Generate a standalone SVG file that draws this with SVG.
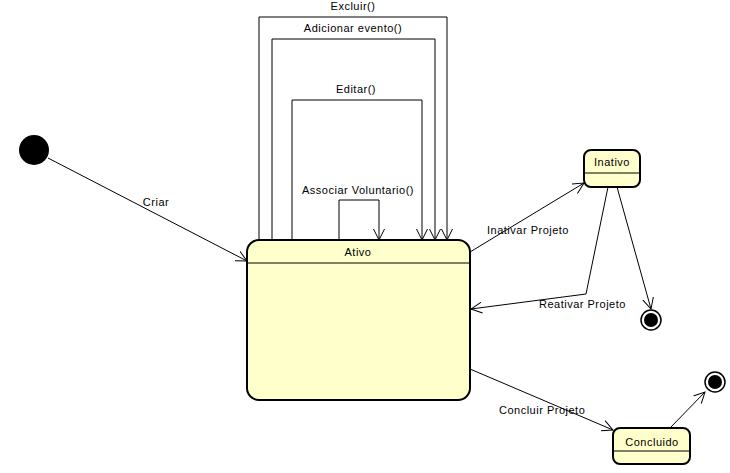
<svg xmlns="http://www.w3.org/2000/svg" width="730" height="473" viewBox="0 0 730 473">
<defs>
<marker id="arr" viewBox="0 0 12 12" refX="11" refY="6" markerWidth="12" markerHeight="12" markerUnits="userSpaceOnUse" orient="auto">
<path d="M0,0.5 L11,6 L0,11.5" fill="none" stroke="#000" stroke-width="1"/>
</marker>
</defs>
<style>
text{font-family:"Liberation Sans",Arial,sans-serif;font-size:11px;letter-spacing:0.5px;fill:#000}
.c{stroke:#000;stroke-width:1;fill:none;marker-end:url(#arr)}
.st{fill:#ffffcc;stroke:#000;stroke-width:2}
.ln{stroke:#000;stroke-width:1}
</style>
<rect width="730" height="473" fill="#fff"/>
<g id="connectors">
<path class="c" d="M48,158 L247,261"/>
<text x="156" y="206" text-anchor="middle">Criar</text>
<path class="c" d="M259,240 L259,17 L447,17 L447,240"/>
<text x="353" y="10" text-anchor="middle">Excluir()</text>
<path class="c" d="M272,240 L272,39 L435,39 L435,240"/>
<text x="353" y="32" text-anchor="middle">Adicionar evento()</text>
<path class="c" d="M292,240 L292,100 L422,100 L422,240"/>
<text x="356" y="93" text-anchor="middle">Editar()</text>
<path class="c" d="M339,240 L339,200 L379,200 L379,240"/>
<text x="358" y="194" text-anchor="middle">Associar Voluntario()</text>
<path class="c" d="M470,252 L584,183"/>
<text x="487" y="234">Inativar Projeto</text>
<path class="c" d="M608,187 L586,294 L471,309"/>
<text x="539" y="308">Reativar Projeto</text>
<path class="c" d="M617,187 L651,309"/>
<path class="c" d="M470,369 L613,430"/>
<text x="499" y="414">Concluir Projeto</text>
<path class="c" d="M670,428 L705,392"/>
</g>
<g id="initial">
<circle cx="34" cy="150" r="15" fill="#000"/>
</g>
<g id="ativo">
<rect class="st" x="247" y="240" width="223" height="160" rx="12"/>
<line class="ln" x1="247" y1="263" x2="470" y2="263"/>
<text x="358" y="256" text-anchor="middle">Ativo</text>
</g>
<g id="inativo">
<rect class="st" x="584" y="150" width="56" height="37" rx="7"/>
<line class="ln" x1="584" y1="173" x2="640" y2="173"/>
<text x="612" y="166" text-anchor="middle">Inativo</text>
</g>
<g id="concluido">
<rect class="st" x="613" y="428" width="77" height="36" rx="7"/>
<line class="ln" x1="613" y1="451" x2="690" y2="451"/>
<text x="652" y="446" text-anchor="middle">Concluido</text>
</g>
<g id="final1">
<circle cx="651" cy="320" r="10" fill="#fff" stroke="#000" stroke-width="1.5"/>
<circle cx="651" cy="320" r="7" fill="#000"/>
</g>
<g id="final2">
<circle cx="715" cy="382" r="10" fill="#fff" stroke="#000" stroke-width="1.5"/>
<circle cx="715" cy="382" r="7" fill="#000"/>
</g>
</svg>
